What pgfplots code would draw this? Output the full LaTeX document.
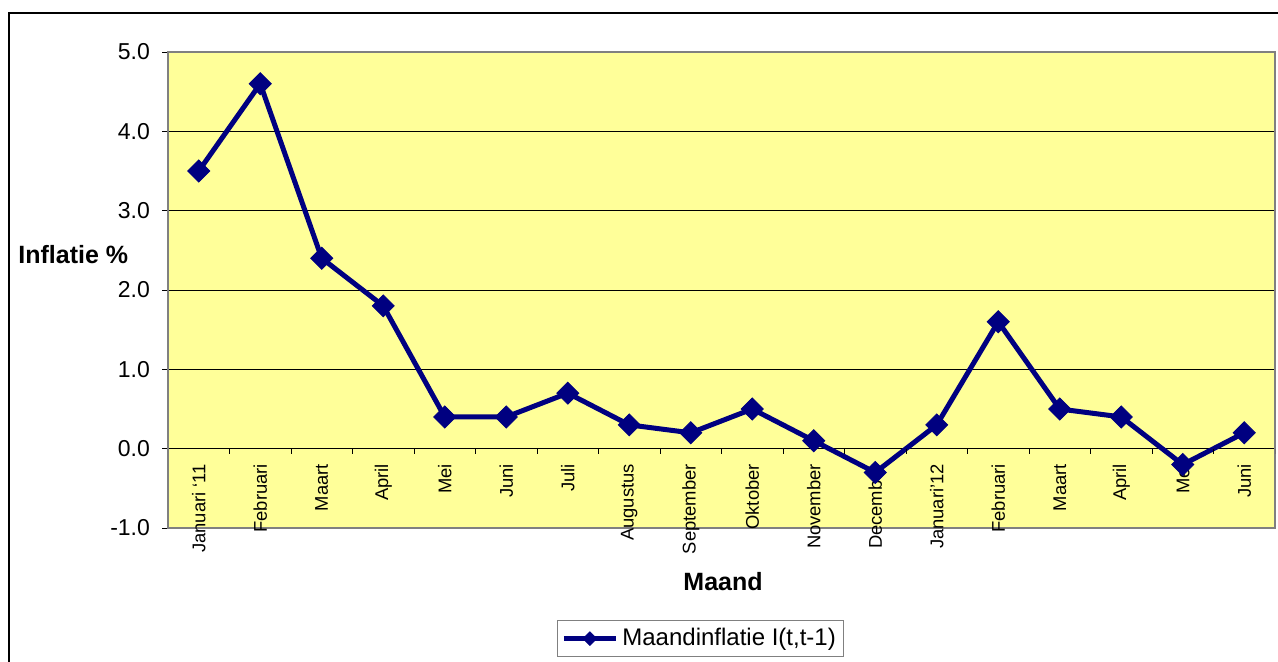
\documentclass[border=0pt]{standalone}
\usepackage{fontspec}
\setmainfont{Liberation Sans}
\usepackage{pgfplots}
\pgfplotsset{compat=1.18}
\definecolor{plotbg}{RGB}{255,255,153}
\definecolor{navyline}{RGB}{0,0,128}
\begin{document}
\begin{tikzpicture}
\useasboundingbox (0,0) rectangle (639pt,330.5pt);
\draw[line width=1.1pt] (4.5pt,-5pt) -- (4.5pt,324pt) -- (645pt,324pt);
\begin{axis}[
  at={(84pt,66.5pt)}, anchor=south west,
  scale only axis, width=553.5pt, height=238pt,
  xmin=-0.5, xmax=17.5, ymin=-1, ymax=5,
  axis background/.style={fill=plotbg},
  axis line style={draw=gray, line width=0.7pt},
  ytick={-1,0,...,5},
  ytick pos=left,
  ymajorgrids, grid style={black, line width=0.5pt},
  tick align=outside, major tick length=3pt,
  ytick style={black, line width=0.5pt},
  yticklabel style={xshift=-2.5pt, font=\fontsize{11.5}{13}\selectfont, /pgf/number format/.cd, fixed, fixed zerofill, precision=1, assume math mode=true},
  xtick={0,...,17},
  xticklabels={Januari `11,Februari,Maart,April,Mei,Juni,Juli,Augustus,September,Oktober,November,December,Januari'12,Februari,Maart,April,Mei,Juni},
  xtick style={draw=none},
  xticklabel style={rotate=90, anchor=east, font=\fontsize{9.2}{11}\selectfont},
  xticklabel shift=-38.5pt,
  xlabel={\textbf{Maand}},
  xlabel style={at={(axis description cs:0.5014,-0.1134)}, anchor=center, font=\fontsize{12.5}{14}\selectfont},
  ylabel={\textbf{Inflatie \%}},
  ylabel style={rotate=-90, at={(axis description cs:-0.1355,0.5735)}, anchor=west, inner sep=0pt, font=\fontsize{12.5}{14}\selectfont},
  legend style={at={(0.3514,-0.1933)}, anchor=north west, draw=gray, font=\fontsize{12}{14}\selectfont, inner sep=2pt},
  legend cell align=left,
  legend image code/.code={\draw[mark repeat=2,mark phase=2,#1,mark size=2.4pt] plot coordinates {(0pt,0pt) (13pt,0pt) (26pt,0pt)};},
]
\addplot[navyline, line width=2.5pt, mark=square*, mark size=3.9pt, mark options={rotate=45, fill=navyline, draw=navyline, line width=0.4pt}] coordinates {
(0,3.5) (1,4.6) (2,2.4) (3,1.8) (4,0.4) (5,0.4) (6,0.7) (7,0.3) (8,0.2) (9,0.5) (10,0.1) (11,-0.3) (12,0.3) (13,1.6) (14,0.5) (15,0.4) (16,-0.2) (17,0.2)
};
\addlegendentry{Maandinflatie I(t,t-1)}
\pgfplotsinvokeforeach{0.5,1.5,...,17.5}{\draw[black, line width=0.5pt] (axis cs:#1,0) -- ++(0pt,-2.5pt);}
\end{axis}
\end{tikzpicture}
\end{document}
